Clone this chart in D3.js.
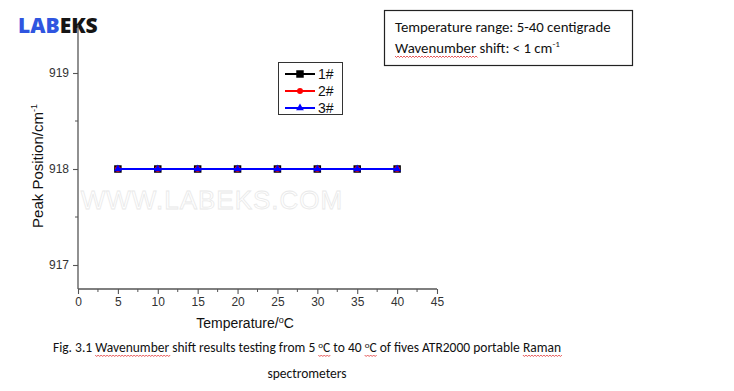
<!DOCTYPE html>
<html><head><meta charset="utf-8">
<script src="https://cdn.jsdelivr.net/npm/d3@7"></script>
<style>body{margin:0;background:#fff}svg{display:block}</style>
</head><body>
<svg id="c" width="734" height="391"></svg>
<script>
const temps = [5, 10, 15, 20, 25, 30, 35, 40];
const s1 = [918, 918, 918, 918, 918, 918, 918, 918];
const s2 = [918, 918, 918, 918, 918, 918, 918, 918];
const s3 = [918, 918, 918, 918, 918, 918, 918, 918];
const seriesNames = ["1#", "2#", "3#"];
const xTicks = [0, 5, 10, 15, 20, 25, 30, 35, 40, 45];
const yTicks = [917, 918, 919];

const svg = d3.select("#c");
const x = d3.scaleLinear().domain([0, 45]).range([78, 437]);
const y = d3.scaleLinear().domain([916.75, 919.5]).range([289, 25]);
const axisColor = "#555";
const font = "Arial, 'Liberation Sans', sans-serif";
const cal = "Carlito, Calibri, Lato, 'Open Sans', sans-serif";

// watermark
svg.append("text").attr("x", 212).attr("y", 209).attr("text-anchor", "middle")
  .attr("font-family", font).attr("font-size", 26).attr("fill", "#fff")
  .attr("stroke", "#e9e9e9").attr("stroke-width", 0.8).attr("letter-spacing", 1)
  .text("WWW.LABEKS.COM");

// logo
const logo = svg.append("text").attr("x", 18).attr("y", 33)
  .attr("font-family", "'Open Sans', 'DejaVu Sans', sans-serif").attr("font-weight", 800).attr("font-size", 21);
logo.append("tspan").attr("fill", "#2f55e0").text("LAB");
logo.append("tspan").attr("fill", "#151515").text("EKS");

// axes
const xAxis = d3.axisBottom(x).tickValues(xTicks).tickSize(5).tickPadding(3);
const gx = svg.append("g").attr("transform", "translate(0,289)").call(xAxis);
const yAxis = d3.axisLeft(y).tickValues(yTicks).tickSize(5).tickPadding(4).tickFormat(d3.format("d"));
const gy = svg.append("g").attr("transform", "translate(78,0)").call(yAxis);
[gx, gy].forEach(g => {
  g.select(".domain").attr("stroke", axisColor).attr("stroke-width", 1.3);
  g.selectAll(".tick line").attr("stroke", axisColor).attr("stroke-width", 1.1);
  g.selectAll(".tick text").attr("font-family", font).attr("font-size", 12).attr("fill", "#333");
});
gx.select(".domain").attr("d", `M78,0H437`);
gy.select(".domain").attr("d", `M0,${y(919.5)}V${289}`);
// minor ticks
const xMinor = d3.range(2.5, 45, 5);
svg.append("g").selectAll("line").data(xMinor).join("line")
  .attr("x1", d => x(d)).attr("x2", d => x(d)).attr("y1", 289).attr("y2", 292)
  .attr("stroke", axisColor).attr("stroke-width", 1);
const yMinor = [917.5, 918.5];
svg.append("g").selectAll("line").data(yMinor).join("line")
  .attr("x1", 75).attr("x2", 78).attr("y1", d => y(d)).attr("y2", d => y(d))
  .attr("stroke", axisColor).attr("stroke-width", 1);

// axis titles
svg.append("text").attr("transform", "translate(43,166) rotate(-90)").attr("text-anchor", "middle")
  .attr("font-family", font).attr("font-size", 15).attr("fill", "#111")
  .html('Peak Position/cm<tspan dy="-6" font-size="9">-1</tspan>');
svg.append("text").attr("x", 245).attr("y", 328).attr("text-anchor", "middle")
  .attr("font-family", font).attr("font-size", 14).attr("fill", "#111")
  .html('Temperature/<tspan dy="-5" font-size="9">o</tspan><tspan dy="5">C</tspan>');

// series
const series = [
  {name: seriesNames[0], vals: s1, color: "#000", sym: d3.symbolSquare, size: 56},
  {name: seriesNames[1], vals: s2, color: "#f00", sym: d3.symbolCircle, size: 28},
  {name: seriesNames[2], vals: s3, color: "#00f", sym: d3.symbolTriangle, size: 26},
];
const line = d3.line().x((d, i) => x(temps[i])).y(d => y(d));
series.forEach(s => {
  const g = svg.append("g");
  g.append("path").attr("d", line(s.vals)).attr("fill", "none").attr("stroke", s.color).attr("stroke-width", 2);
  g.selectAll("path.m").data(s.vals).join("path").attr("class", "m")
    .attr("d", d3.symbol().type(s.sym).size(s.size))
    .attr("transform", (d, i) => `translate(${x(temps[i])},${y(d)})`)
    .attr("fill", s.color);
});

// legend
const lg = svg.append("g");
lg.append("rect").attr("x", 278.5).attr("y", 62.5).attr("width", 64).attr("height", 52)
  .attr("fill", "#fff").attr("stroke", "#333").attr("stroke-width", 1);
series.forEach((s, i) => {
  const yy = 74 + i * 17;
  lg.append("line").attr("x1", 285).attr("x2", 315).attr("y1", yy).attr("y2", yy)
    .attr("stroke", s.color).attr("stroke-width", 2);
  lg.append("path").attr("d", d3.symbol().type(s.sym).size(s.size)).attr("transform", `translate(300,${yy})`).attr("fill", s.color);
  lg.append("text").attr("x", 318).attr("y", yy + 5).attr("font-family", font).attr("font-size", 14).attr("fill", "#111").text(s.name);
});

// spell-check wavy underlines
function wavy(x0, x1, yy) {
  let d = `M${x0},${yy}`;
  for (let xx = x0, k = 0; xx < x1; xx += 1.5, k++) d += `L${xx + 1.5},${yy + (k % 2 ? 0 : 1.5)}`;
  svg.append("path").attr("d", d).attr("fill", "none").attr("stroke", "#e03030").attr("stroke-width", 0.8);
}
function underline(textNode, word, nth, yy) {
  const str = textNode.textContent;
  let idx = -1;
  for (let k = 0; k <= nth; k++) idx = str.indexOf(word, idx + 1);
  if (idx < 0) return;
  const a = textNode.getStartPositionOfChar(idx).x;
  const b = textNode.getEndPositionOfChar(idx + word.length - 1).x;
  wavy(a, b, yy);
}

// annotation box
svg.append("rect").attr("x", 384.5).attr("y", 10.5).attr("width", 248).attr("height", 55)
  .attr("fill", "#fff").attr("stroke", "#222").attr("stroke-width", 1.2);
svg.append("text").attr("x", 395).attr("y", 32).attr("font-family", cal).attr("font-size", 14.8).attr("fill", "#111")
  .text("Temperature range: 5-40 centigrade");
const ann2 = svg.append("text").attr("x", 395).attr("y", 53).attr("font-family", cal).attr("font-size", 14.8).attr("fill", "#111")
  .html('Wavenumber shift: &lt; 1 cm<tspan dy="-6" font-size="9">-1</tspan>');
underline(ann2.node(), "Wavenumber", 0, 56);

// caption
const cap = svg.append("text").attr("x", 307).attr("y", 352).attr("text-anchor", "middle").attr("font-family", cal).attr("font-size", 13.5).attr("fill", "#111")
  .html('Fig. 3.1 Wavenumber shift results testing from 5 <tspan dy="-4" font-size="9">o</tspan><tspan dy="4">C to 40 </tspan><tspan dy="-4" font-size="9">o</tspan><tspan dy="4">C of fives ATR2000 portable Raman</tspan>');
svg.append("text").attr("x", 307).attr("y", 378).attr("text-anchor", "middle").attr("font-family", cal).attr("font-size", 13.5).attr("fill", "#111")
  .text("spectrometers");
underline(cap.node(), "Wavenumber", 0, 355);
underline(cap.node(), "oC", 0, 355);
underline(cap.node(), "oC", 1, 355);
underline(cap.node(), "Raman", 0, 355);
</script>
</body></html>
